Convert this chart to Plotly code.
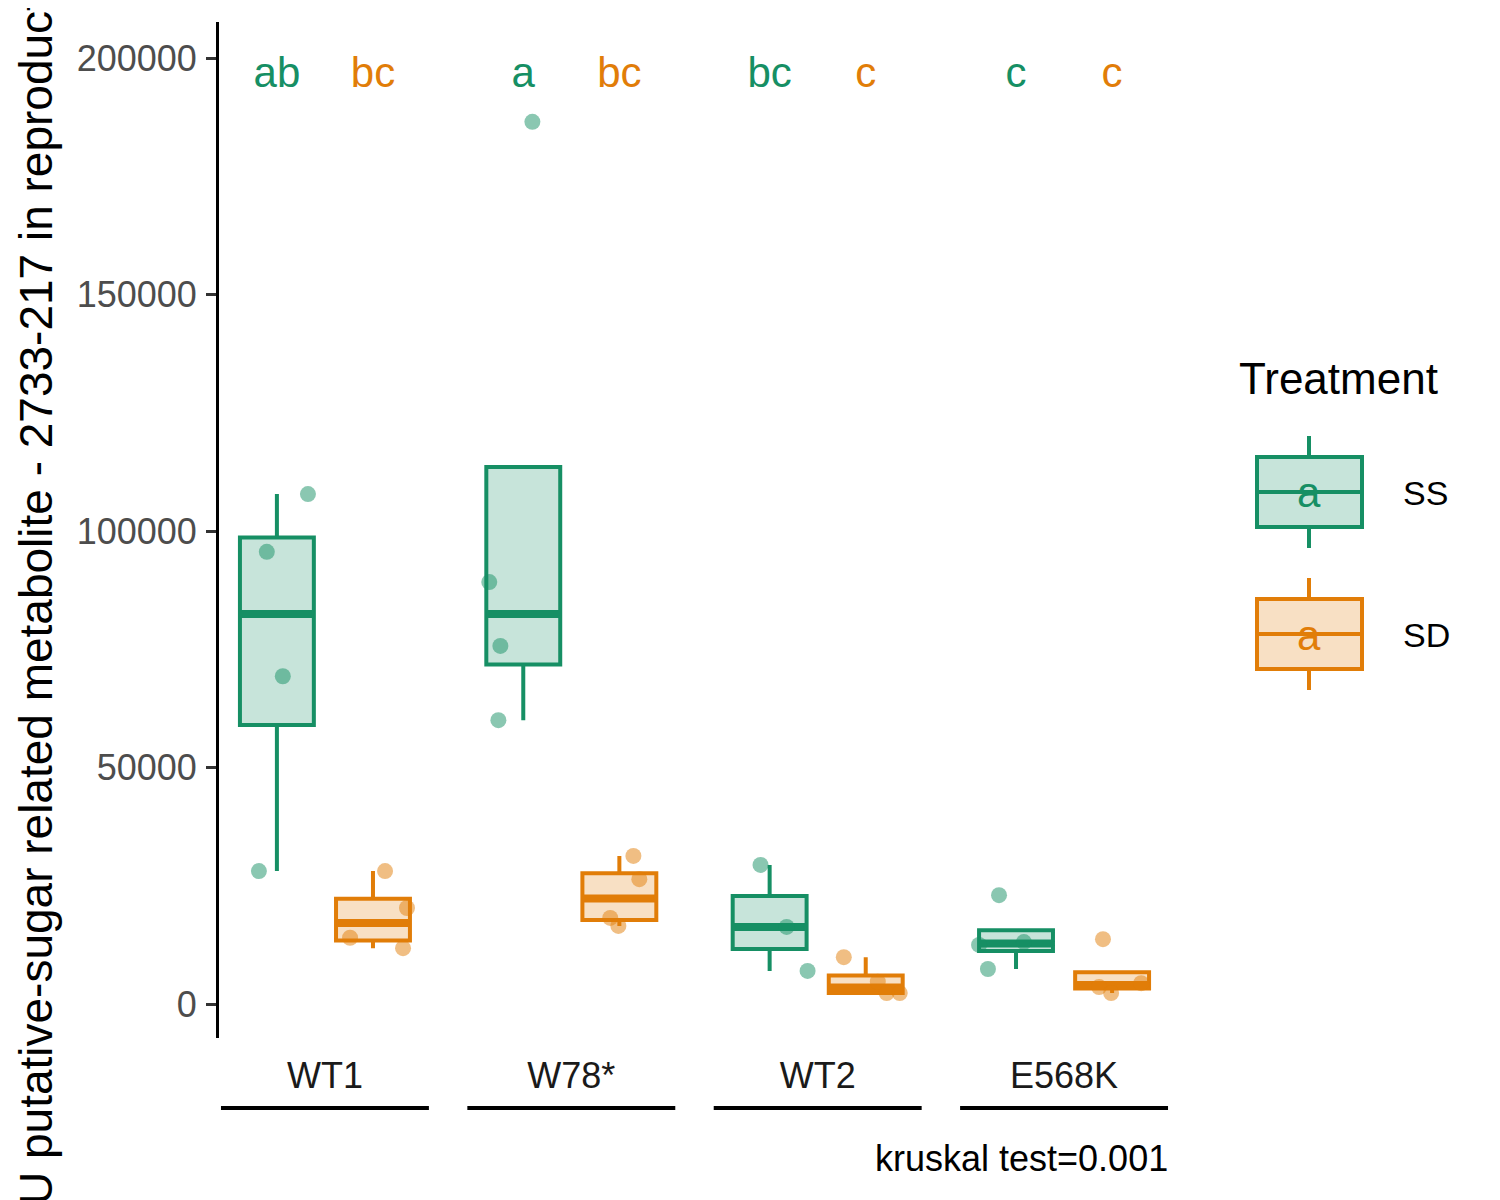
import numpy as np
import plotly.graph_objects as go

# ---------------- data ----------------
groups = ["WT1", "W78*", "WT2", "E568K"]
treatments = ["SS", "SD"]

ss_values = [
    [107800, 95600, 69300, 28100],
    [186500, 89200, 75700, 60000],
    [29400, 16300, 7000],
    [23000, 13100, 12500, 7400],
]
sd_values = [
    [28100, 20300, 14000, 11800],
    [31300, 26400, 18200, 16500],
    [9900, 4700, 2300, 2300],
    [13700, 4400, 3600, 2300],
]
# horizontal jitter of each point (fraction of group spacing)
ss_jitter = [
    [0.126, -0.041, 0.024, -0.073],
    [0.037, -0.138, -0.093, -0.101],
    [-0.037, 0.069, 0.154],
    [-0.069, 0.032, -0.150, -0.114],
]
sd_jitter = [
    [0.049, 0.138, -0.093, 0.122],
    [0.057, 0.081, -0.037, -0.004],
    [-0.089, 0.049, 0.085, 0.138],
    [-0.037, 0.118, -0.053, -0.004],
]
ss_letters = ["ab", "a", "bc", "c"]
sd_letters = ["bc", "bc", "c", "c"]
letter_y = 196000
kruskal_label = "kruskal test=0.001"
y_title = "AU putative-sugar related metabolite - 2733-217 in reproductive parts"

# ---------------- styling ----------------
GREEN = "#168F64"
ORANGE = "#E17D08"
colors = {"SS": GREEN, "SD": ORANGE}
fills = {"SS": "rgba(22,143,100,0.24)", "SD": "rgba(225,125,8,0.24)"}
pts = {"SS": "rgba(22,143,100,0.5)", "SD": "rgba(225,125,8,0.5)"}
offsets = {"SS": -0.195, "SD": 0.195}
BOXW = 0.30
FONT = "Liberation Sans, Arial, sans-serif"

OFF = 8  # page body margin in the browser
W, H = 1500, 1200
# plot area in screenshot pixels: x 219..1170, y 22..1038
ML, MT = 219 - OFF, 22 - OFF
MR, MB = W - (1170 - OFF), H - (1038 - OFF)
PW, PH = W - ML - MR, H - MT - MB


def px(xp):
    return (xp - OFF - ML) / PW


def py(yp):
    return (H - MB - (yp - OFF)) / PH


def stats(vals):
    v = np.sort(np.asarray(vals, dtype=float))
    q1, med, q3 = np.percentile(v, [25, 50, 75])
    iqr = q3 - q1
    lo = v[v >= q1 - 1.5 * iqr].min()
    hi = v[v <= q3 + 1.5 * iqr].max()
    return q1, med, q3, min(lo, q1), max(hi, q3)


fig = go.Figure()

data = {"SS": (ss_values, ss_jitter, ss_letters), "SD": (sd_values, sd_jitter, sd_letters)}

for t in treatments:
    vals, jit, letters = data[t]
    xs, q1s, meds, q3s, los, his = [], [], [], [], [], []
    for gi, v in enumerate(vals):
        q1, med, q3, lo, hi = stats(v)
        xs.append(gi + offsets[t])
        q1s.append(q1); meds.append(med); q3s.append(q3); los.append(lo); his.append(hi)
    fig.add_trace(go.Box(
        x=xs, q1=q1s, median=meds, q3=q3s, lowerfence=los, upperfence=his,
        width=BOXW, whiskerwidth=0, boxpoints=False,
        line=dict(color=colors[t], width=4), fillcolor=fills[t],
        name=t, showlegend=False, hoverinfo="skip",
    ))
    # thick median
    mx, my = [], []
    for x0, m in zip(xs, meds):
        mx += [x0 - BOXW / 2, x0 + BOXW / 2, None]
        my += [m, m, None]
    fig.add_trace(go.Scatter(x=mx, y=my, mode="lines",
                             line=dict(color=colors[t], width=8),
                             showlegend=False, hoverinfo="skip"))
    # jittered points
    px_, py_ = [], []
    for gi, (v, j) in enumerate(zip(vals, jit)):
        for val, jj in zip(v, j):
            px_.append(gi + offsets[t] + jj)
            py_.append(val)
    fig.add_trace(go.Scatter(x=px_, y=py_, mode="markers",
                             marker=dict(color=pts[t], size=16, line=dict(width=0)),
                             showlegend=False, hoverinfo="skip"))
    # letters
    fig.add_trace(go.Scatter(x=xs, y=[letter_y] * len(xs), mode="text",
                             text=letters, textfont=dict(color=colors[t], size=42, family=FONT),
                             textposition="middle center", showlegend=False, hoverinfo="skip"))

shapes = []
# group underlines
for gi in range(len(groups)):
    shapes.append(dict(type="line", xref="x", yref="paper", x0=gi - 0.422, x1=gi + 0.422,
                       y0=py(1108), y1=py(1108), line=dict(color="black", width=4)))

annotations = [
    dict(text=kruskal_label, xref="paper", yref="paper", x=px(1170), y=py(1158),
         xanchor="right", yanchor="middle", showarrow=False,
         font=dict(size=36, color="black", family=FONT)),
    dict(text="Treatment", xref="paper", yref="paper", x=px(1237), y=py(378),
         xanchor="left", yanchor="middle", showarrow=False,
         font=dict(size=44, color="black", family=FONT)),
]

# custom legend keys
leg = {"SS": 492, "SD": 634}
for t in treatments:
    yc = leg[t]
    c = colors[t]
    shapes.append(dict(type="line", xref="paper", yref="paper", x0=px(1309), x1=px(1309),
                       y0=py(yc - 56), y1=py(yc - 35), line=dict(color=c, width=4)))
    shapes.append(dict(type="line", xref="paper", yref="paper", x0=px(1309), x1=px(1309),
                       y0=py(yc + 35), y1=py(yc + 56), line=dict(color=c, width=4)))
    shapes.append(dict(type="rect", xref="paper", yref="paper", x0=px(1257), x1=px(1362),
                       y0=py(yc + 35), y1=py(yc - 35), line=dict(color=c, width=4),
                       fillcolor=fills[t]))
    shapes.append(dict(type="line", xref="paper", yref="paper", x0=px(1257), x1=px(1362),
                       y0=py(yc), y1=py(yc), line=dict(color=c, width=4)))
    annotations.append(dict(text="a", xref="paper", yref="paper", x=px(1309), y=py(yc + 1),
                            xanchor="center", yanchor="middle", showarrow=False,
                            font=dict(size=42, color=c, family=FONT)))
    annotations.append(dict(text=t, xref="paper", yref="paper", x=px(1401), y=py(yc + 1),
                            xanchor="left", yanchor="middle", showarrow=False,
                            font=dict(size=34, color="black", family=FONT)))

fig.update_layout(
    width=W, height=H,
    margin=dict(l=ML, r=MR, t=MT, b=MB, autoexpand=False),
    plot_bgcolor="white", paper_bgcolor="white",
    font=dict(family=FONT),
    showlegend=False,
    shapes=shapes, annotations=annotations,
)
fig.update_xaxes(
    range=[-0.43, 3.43], tickvals=list(range(len(groups))), ticktext=groups,
    showline=False, showgrid=False, zeroline=False, ticks="",
    tickfont=dict(size=36, color="#1A1A1A", family=FONT), ticklabelstandoff=13,
)
fig.update_yaxes(
    range=[-7188, 207614], tickvals=[0, 50000, 100000, 150000, 200000],
    ticktext=["0", "50000", "100000", "150000", "200000"],
    showline=True, linecolor="black", linewidth=3,
    ticks="outside", ticklen=10, tickwidth=3, tickcolor="#333333",
    showgrid=False, zeroline=False,
    tickfont=dict(size=36, color="#4D4D4D", family=FONT), ticklabelstandoff=2,
    title=dict(text=y_title, font=dict(size=46, color="black", family=FONT), standoff=10),
)

fig.write_html("out.html")
